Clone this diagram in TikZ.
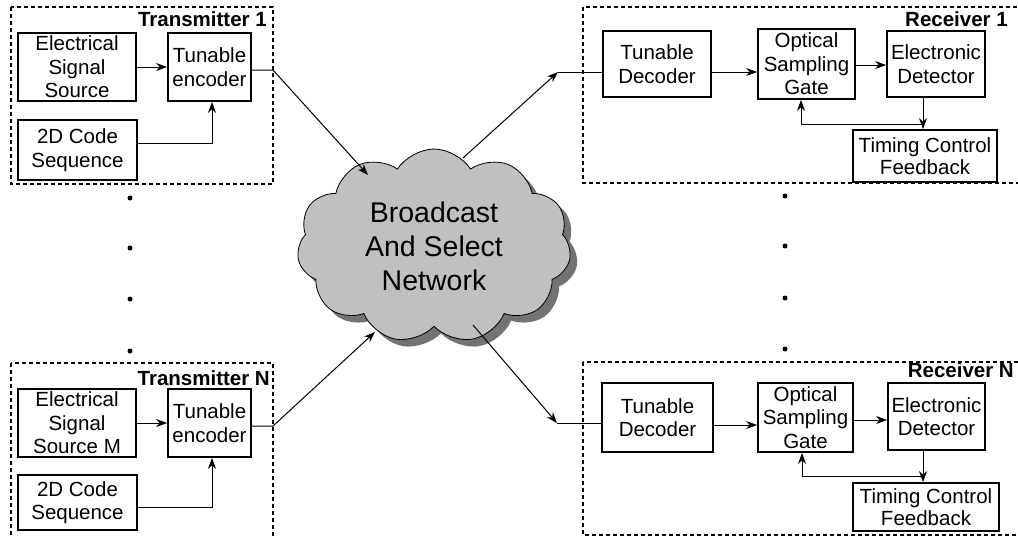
\documentclass[tikz,border=0pt]{standalone}
\usepackage{fontspec}
\setmainfont{Liberation Sans}
\usetikzlibrary{shapes.symbols,shadows,arrows.meta}
\begin{document}
\begin{tikzpicture}[x=1pt,y=-1pt,
  blk/.style={draw, line width=1.8pt, inner sep=0pt, align=center,
    font=\fontsize{20.5}{23.5}\selectfont},
  grp/.style={draw, line width=1.2pt, dash pattern=on 4pt off 3pt},
  lbl/.style={font=\fontsize{20.5}{23}\selectfont\bfseries, anchor=base east, inner sep=0pt},
  conn/.style={line width=1pt},
  arr/.style={conn, -{Stealth[length=11pt,width=8pt]}},
  dotm/.style={circle, fill=black, inner sep=0pt, minimum size=5pt}]
\useasboundingbox (0,0) rectangle (1018,538);
\clip (0,0) rectangle (1018,538);
\fill[white] (0,0) rectangle (1018,538);

% group frames
\draw[grp] (11,7) rectangle (273,184);
\draw[grp] (11,363) rectangle (273,560);
\draw[grp] (583,7) rectangle (1030,183);
\draw[grp] (583,362) rectangle (1030,535);

\node[lbl] (lt1) at (267,27) {Transmitter 1};
\node[lbl] (ltN) at (270,385) {Transmitter N};
\node[lbl] (lr1) at (1008,27) {Receiver 1};
\node[lbl] (lrN) at (1014,377) {Receiver N};

% transmitter 1
\node[blk, minimum width=118, minimum height=68] (ess1) at (77,67) {Electrical\\Signal\\Source};
\node[blk, minimum width=83, minimum height=68] (enc1) at (209.5,67) {Tunable\\encoder};
\node[blk, minimum width=119, minimum height=60] (code1) at (77.5,150) {2D Code\\Sequence};

% transmitter N
\node[blk, minimum width=118, minimum height=68] (essN) at (77,423) {Electrical\\Signal\\Source M};
\node[blk, minimum width=83, minimum height=68] (encN) at (209.5,423) {Tunable\\encoder};
\node[blk, minimum width=119, minimum height=55] (codeN) at (77.5,502.5) {2D Code\\Sequence};

% cloud
\node[cloud, cloud puffs=11, cloud puff arc=115, aspect=1.45, draw, line width=0.8pt,
  fill={rgb,255:red,192;green,192;blue,192},
  drop shadow={shadow xshift=7pt, shadow yshift=-7pt, fill={rgb,255:red,115;green,115;blue,115}, opacity=1},
  minimum width=274, minimum height=194, inner sep=0pt, align=center,
  font=\fontsize{28.5}{34}\selectfont] (net) at (434,246) {Broadcast\\And Select\\Network};

% receiver 1
\node[blk, minimum width=108, minimum height=66] (dec1) at (657,64) {Tunable\\Decoder};
\node[blk, minimum width=97, minimum height=70] (osg1) at (806.5,64) {Optical\\Sampling\\Gate};
\node[blk, minimum width=98, minimum height=66] (ed1) at (936,64) {Electronic\\Detector};
\node[blk, minimum width=144, minimum height=52, font=\fontsize{20.5}{21.5}\selectfont] (tcf1) at (925,156) {Timing Control\\Feedback};

% receiver N
\node[blk, minimum width=111, minimum height=69] (decN) at (657.5,417.5) {Tunable\\Decoder};
\node[blk, minimum width=95, minimum height=69] (osgN) at (805.5,417.5) {Optical\\Sampling\\Gate};
\node[blk, minimum width=97, minimum height=67] (edN) at (936.5,416.5) {Electronic\\Detector};
\node[blk, minimum width=146, minimum height=48, font=\fontsize{20.5}{21.5}\selectfont] (tcfN) at (926,507) {Timing Control\\Feedback};

% dots
\foreach \y [count=\i] in {198,248,299,351} {\node[dotm] (dl\i) at (130,\y) {};}
\foreach \y [count=\i] in {196,246,298,349} {\node[dotm] (dr\i) at (785,\y) {};}

% coordinates
\coordinate (t1) at (273,70);
\coordinate (c1) at (368,175);
\coordinate (c2) at (463,158);
\coordinate (r1) at (558,72);
\coordinate (tN) at (273,426);
\coordinate (c3) at (375,332);
\coordinate (c4) at (473,325);
\coordinate (rN) at (557,423);
\coordinate (f1) at (801,124);
\coordinate (fN) at (802,476);

% transmitter connectors
\draw[arr] (ess1.east) -- (enc1.west);
\draw[arr] ([yshift=7pt]code1.east) -| ([xshift=2.5pt]enc1.south);
\draw[arr] (essN.east) -- (encN.west);
\draw[arr] ([yshift=-4.5pt]codeN.east) -| ([xshift=2.5pt]encN.south);
\draw[arr] ([yshift=-3pt]enc1.east) -- (t1) -- (c1);
\draw[arr] ([yshift=-3pt]encN.east) -- (tN) -- (c3);

% receiver connectors
\draw[arr] (c2) -- (r1);
\draw[conn] (r1) -- (r1 -| dec1.west);
\draw[arr] (c4) -- (rN);
\draw[conn] (rN) -- (rN -| decN.west);

\draw[arr] ([yshift=-8pt]dec1.east) -- ([yshift=-8pt]dec1.east -| osg1.west);
\draw[arr] ([yshift=-1pt]osg1.east) -- ([yshift=-1pt]osg1.east -| ed1.west);
\draw[arr] ([xshift=-13pt]ed1.south) -- ([xshift=-13pt]ed1.south |- tcf1.north);
\draw[arr] (f1 -| ed1.south) ++(-13,0) -- (f1) -- (f1 |- osg1.south);

\draw[arr] ([yshift=-7.5pt]decN.east) -- ([yshift=-7.5pt]decN.east -| osgN.west);
\draw[arr] ([yshift=-2.5pt]osgN.east) -- ([yshift=-2.5pt]osgN.east -| edN.west);
\draw[arr] ([xshift=-13.5pt]edN.south) -- ([xshift=-13.5pt]edN.south |- tcfN.north);
\draw[arr] (fN -| edN.south) ++(-13.5,0) -- (fN) -- (fN |- osgN.south);
\end{tikzpicture}
\end{document}
